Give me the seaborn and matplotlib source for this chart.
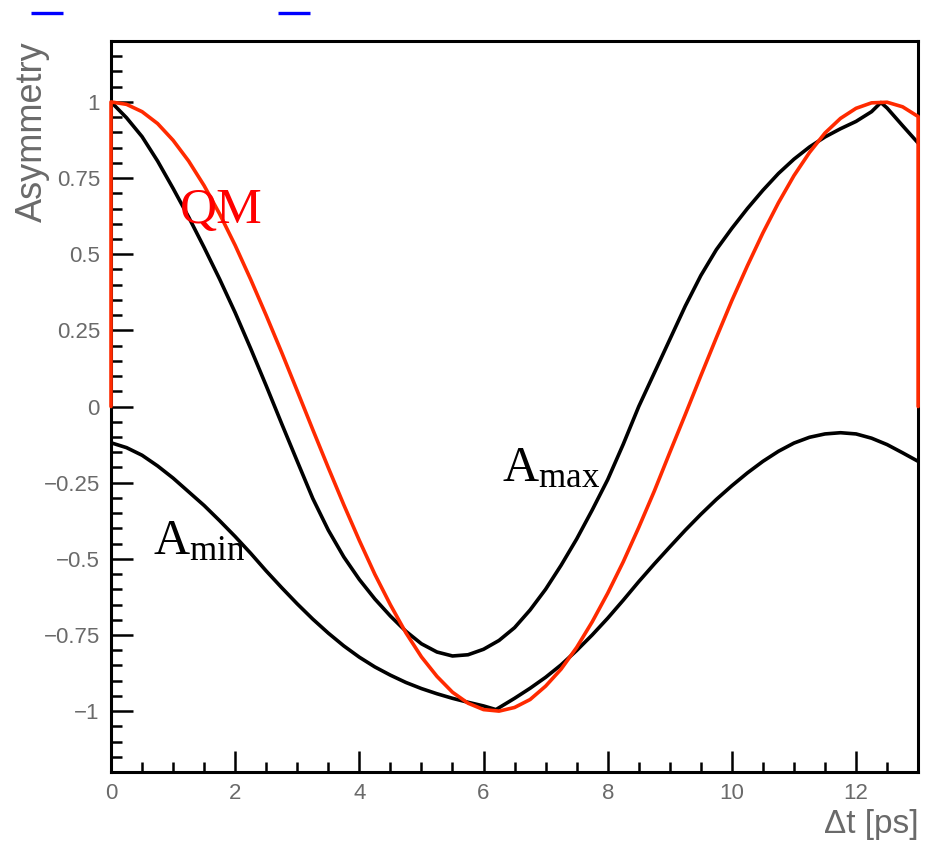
import matplotlib
matplotlib.use("Agg")
import matplotlib.pyplot as plt
from matplotlib.lines import Line2D
from matplotlib.ticker import MultipleLocator, FixedLocator
import seaborn as sns

# ---------------- data ----------------
qm_t = [0, 0, 0.25, 0.5, 0.75, 1.0, 1.25, 1.5, 1.75, 2.0, 2.25, 2.5, 2.75, 3.0,
        3.25, 3.5, 3.75, 4.0, 4.25, 4.5, 4.75, 5.0, 5.25, 5.5, 5.75, 6.0, 6.25,
        6.5, 6.75, 7.0, 7.25, 7.5, 7.75, 8.0, 8.25, 8.5, 8.75, 9.0, 9.25, 9.5,
        9.75, 10.0, 10.25, 10.5, 10.75, 11.0, 11.25, 11.5, 11.75, 12.0, 12.25,
        12.5, 12.75, 13.0, 13.0]
qm_a = [0, 1.0, 0.992, 0.968, 0.929, 0.874, 0.806, 0.725, 0.632, 0.529, 0.417,
        0.299, 0.177, 0.051, -0.076, -0.201, -0.323, -0.440, -0.551, -0.651,
        -0.743, -0.822, -0.886, -0.938, -0.974, -0.995, -1.0, -0.988, -0.962,
        -0.918, -0.862, -0.791, -0.707, -0.613, -0.510, -0.397, -0.278, -0.151,
        -0.026, 0.101, 0.226, 0.348, 0.462, 0.570, 0.669, 0.758, 0.834, 0.898,
        0.946, 0.979, 0.997, 0.999, 0.984, 0.952, 0]

amax_t = [0, 0.25, 0.5, 0.75, 1.0, 1.25, 1.5, 1.75, 2.0, 2.25, 2.5, 2.75, 3.0,
          3.25, 3.5, 3.75, 4.0, 4.25, 4.5, 4.75, 5.0, 5.25, 5.5, 5.75, 6.0,
          6.25, 6.5, 6.75, 7.0, 7.25, 7.5, 7.75, 8.0, 8.25, 8.5, 8.75, 9.0,
          9.25, 9.5, 9.75, 10.0, 10.25, 10.5, 10.75, 11.0, 11.25, 11.5, 11.75,
          12.0, 12.25, 12.4, 12.5, 12.75, 13.0]
amax_a = [1.0, 0.948, 0.886, 0.806, 0.716, 0.622, 0.522, 0.418, 0.308, 0.19,
          0.068, -0.057, -0.18, -0.302, -0.406, -0.494, -0.568, -0.632, -0.688,
          -0.738, -0.779, -0.806, -0.819, -0.815, -0.797, -0.768, -0.726,
          -0.668, -0.600, -0.521, -0.435, -0.340, -0.240, -0.124, 0.0, 0.11,
          0.22, 0.33, 0.43, 0.515, 0.585, 0.65, 0.71, 0.765, 0.812, 0.852,
          0.885, 0.912, 0.936, 0.968, 0.998, 0.98, 0.922, 0.865]

amin_t = [0, 0.25, 0.5, 0.75, 1.0, 1.25, 1.5, 1.75, 2.0, 2.25, 2.5, 2.75, 3.0,
          3.25, 3.5, 3.75, 4.0, 4.25, 4.5, 4.75, 5.0, 5.25, 5.5, 5.75, 6.0,
          6.2, 6.5, 6.75, 7.0, 7.25, 7.5, 7.75, 8.0, 8.25, 8.5, 8.75, 9.0,
          9.25, 9.5, 9.75, 10.0, 10.25, 10.5, 10.75, 11.0, 11.25, 11.5, 11.75,
          12.0, 12.25, 12.5, 12.75, 13.0]
amin_a = [-0.119, -0.135, -0.16, -0.195, -0.235, -0.28, -0.325, -0.375,
          -0.427, -0.482, -0.54, -0.595, -0.648, -0.698, -0.744, -0.786,
          -0.823, -0.855, -0.882, -0.906, -0.926, -0.943, -0.958, -0.971,
          -0.983, -0.995, -0.958, -0.925, -0.889, -0.848, -0.801, -0.75,
          -0.695, -0.636, -0.575, -0.517, -0.461, -0.406, -0.354, -0.305,
          -0.26, -0.218, -0.18, -0.147, -0.12, -0.101, -0.09, -0.086, -0.09,
          -0.104, -0.125, -0.152, -0.18]

xticks = [0, 2, 4, 6, 8, 10, 12]
xtick_labels = ["0", "2", "4", "6", "8", "10", "12"]
yticks = [-1, -0.75, -0.5, -0.25, 0, 0.25, 0.5, 0.75, 1]
ytick_labels = ["\u22121", "\u22120.75", "\u22120.5", "\u22120.25", "0",
                "0.25", "0.5", "0.75", "1"]

# ---------------- style ----------------
sns.set_theme(style="white")
plt.rcParams["font.family"] = ["Liberation Sans", "DejaVu Sans"]
plt.rcParams["mathtext.fontset"] = "custom"
plt.rcParams["mathtext.rm"] = "Liberation Serif"
plt.rcParams["mathtext.it"] = "Liberation Serif:italic"
plt.rcParams["mathtext.bf"] = "Liberation Serif:bold"

GRAY = "#6a6a6a"
RED = "#ff2a00"

fig = plt.figure(figsize=(9.29, 8.42), dpi=100)
ax = fig.add_axes([0.1195, 0.0831, 0.8688, 0.8682])

sns.lineplot(x=amin_t, y=amin_a, ax=ax, color="black", lw=2.6,
             sort=False, estimator=None, zorder=3)
sns.lineplot(x=amax_t, y=amax_a, ax=ax, color="black", lw=2.6,
             sort=False, estimator=None, zorder=3)
sns.lineplot(x=qm_t, y=qm_a, ax=ax, color=RED, lw=2.6,
             sort=False, estimator=None, zorder=6, clip_on=False)

ax.set_xlim(0, 13)
ax.set_ylim(-1.2, 1.2)

ax.xaxis.set_major_locator(FixedLocator(xticks))
ax.set_xticklabels(xtick_labels)
ax.xaxis.set_minor_locator(MultipleLocator(0.5))
ax.yaxis.set_major_locator(FixedLocator(yticks))
ax.set_yticklabels(ytick_labels)
ax.yaxis.set_minor_locator(MultipleLocator(0.05))

ax.tick_params(which="both", direction="in", top=False, right=False,
               bottom=True, left=True, color="black", width=1.8,
               labelsize=16, labelcolor=GRAY, pad=8)
ax.tick_params(axis="x", which="major", length=15)
ax.tick_params(axis="x", which="minor", length=7)
ax.tick_params(axis="y", which="major", length=16)
ax.tick_params(axis="y", which="minor", length=8)

for s in ax.spines.values():
    s.set_color("black")
    s.set_linewidth(2.2)
    s.set_visible(True)

ax.set_ylabel("Asymmetry", fontsize=26, color=GRAY, loc="top")
ax.yaxis.set_label_coords(-0.076, 1.0)
ax.set_xlabel("\u0394t [ps]", fontsize=24, color=GRAY, loc="right",
              va="baseline")
ax.xaxis.set_label_coords(1.0, -0.084)

ax.text(1.11, 0.603, "QM", color="red", fontsize=37,
        family="Liberation Serif", va="baseline", zorder=7)
ax.text(6.29, -0.246, r"$\mathrm{A}_{\mathrm{max}}$", color="black",
        fontsize=36, va="baseline", zorder=7)
ax.text(0.68, -0.485, r"$\mathrm{A}_{\mathrm{min}}$", color="black",
        fontsize=36, va="baseline", zorder=7)

# blue marks at top of the canvas
for x0, x1 in [(31, 63), (278, 310)]:
    fig.add_artist(Line2D([x0 / 929, x1 / 929], [1 - 13 / 842] * 2,
                          transform=fig.transFigure, color="#0000ff", lw=2.4,
                          solid_capstyle="butt"))

fig.savefig("out.png", dpi=100)
